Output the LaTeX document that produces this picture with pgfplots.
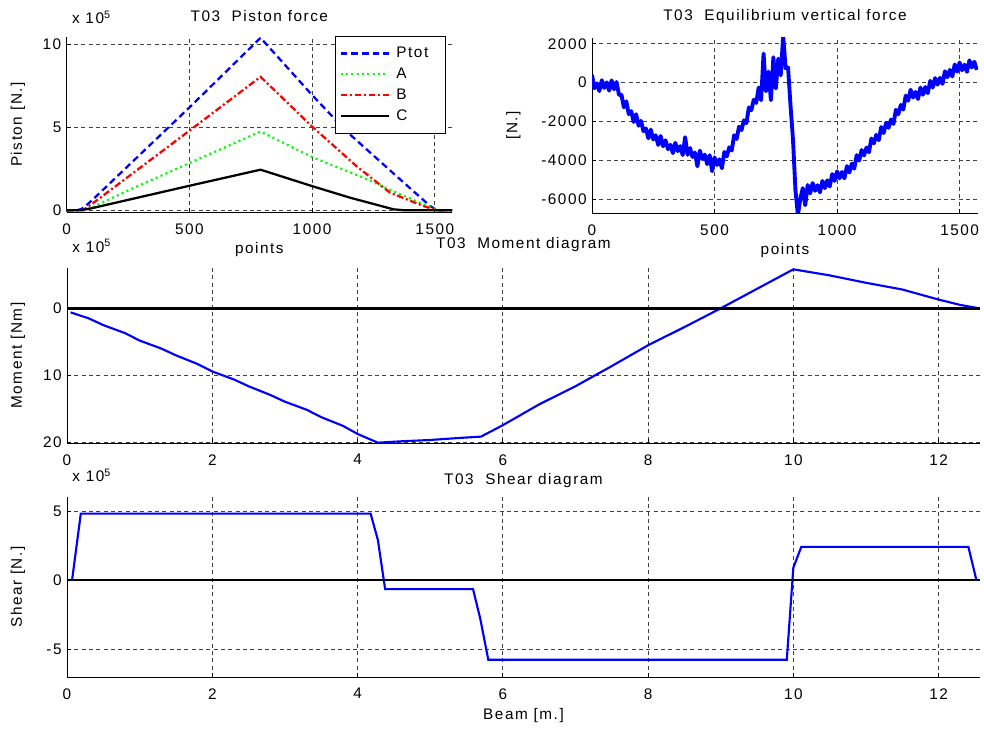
\documentclass[border=0pt]{standalone}
\usepackage{fontspec}
\setmainfont{Liberation Sans}[LetterSpace=10]
\usepackage{pgfplots}
\pgfplotsset{compat=1.18}
\definecolor{mblue}{RGB}{0,0,255}
\definecolor{mgreen}{RGB}{0,255,0}
\definecolor{mred}{RGB}{255,0,0}
\newcommand\fnt{\fontsize{11.5}{13.5}\selectfont}
\pgfplotsset{
  mat/.style={
    scale only axis,
    anchor=south west,
    axis x line*=bottom, axis y line*=left,
    axis line style={-, black, line width=0.6pt},
    grid=major,
    major grid style={black!75, line width=0.5pt, dash pattern=on 3pt off 2.5pt},
    tick align=inside,
    major tick length=3pt,
    tick style={black, line width=0.5pt},
    /pgf/number format/assume math mode=true,
    /pgf/number format/1000 sep={},
    tick label style={font=\fnt},
    xticklabel style={yshift=-4.5pt},
    scaled ticks=false,
  }
}
\begin{document}
\fnt
\begin{tikzpicture}
\useasboundingbox (0pt,0pt) rectangle (738pt,549pt);
% ---------- Piston force ----------
\begin{axis}[mat,
  at={(50pt,390pt)}, width=289pt, height=131.25pt,
  xmin=0, xmax=1570, ymin=-0.1, ymax=10.45,
  xtick={0,500,1000,1500}, ytick={0,5,10},
  legend style={at={(0.9844,1.0057)}, anchor=north east, draw=black, line width=0.5pt,
    fill=white, font=\fnt, row sep=2pt, column sep=3pt, inner xsep=3pt, inner ysep=6pt, cells={anchor=west}},
  legend image code/.code={\draw[#1] (0pt,0pt) -- (36pt,0pt);},
  extra description/.code={
    \node[anchor=center] at ([yshift=15.75pt]axis description cs:0.5,1) {T03\ \ Piston force};
    \node[anchor=base west] at ([yshift=9.75pt]axis description cs:0,1) {x 10\textsuperscript{5}};
    \node[anchor=center] at ([yshift=-28.5pt]axis description cs:0.5,0) {points};
    \node[anchor=center, rotate=90] at ([xshift=-36.5pt]axis description cs:0,0.5) {Piston [N.]};
  }]
\addplot[mblue, line width=1.7pt, dash pattern=on 5pt off 3pt] coordinates {
 (0,0) (40,0) (60,0.08) (80,0.3) (110,0.7) (500,6.2) (790,10.4) (1000,6.95) (1141,4.75) (1359,1.86) (1481,0.26) (1510,0) (1570,0)};
\addlegendentry{Ptot\hspace*{8pt}}
\addplot[mgreen, line width=1.7pt, dash pattern=on 1.5pt off 2.5pt] coordinates {
 (0,0) (70,0) (100,0.15) (250,1.2) (500,2.85) (790,4.75) (1000,3.21) (1196,2.05) (1345,1.06) (1454,0.36) (1520,0) (1570,0)};
\addlegendentry{A}
\addplot[mred, line width=1.7pt, dash pattern=on 5pt off 2pt on 1.5pt off 2pt] coordinates {
 (0,0) (65,0) (100,0.35) (500,4.8) (790,8.05) (1000,5.05) (1182,2.65) (1318,1.06) (1454,0.26) (1510,0) (1570,0)};
\addlegendentry{B}
\addplot[black, line width=1.7pt] coordinates {
 (0,0) (55,0) (100,0.12) (500,1.48) (790,2.45) (1000,1.46) (1155,0.76) (1332,0.06) (1380,0) (1570,0)};
\addlegendentry{C}
\end{axis}
% ---------- Equilibrium vertical force ----------
\begin{axis}[mat,
  at={(444pt,389.25pt)}, width=289.5pt, height=131.25pt,
  xmin=0, xmax=1575, ymin=-6700, ymax=2300,
  xtick={0,500,1000,1500}, ytick={-6000,-4000,-2000,0,2000},
  extra description/.code={
    \node[anchor=center] at ([yshift=15.75pt]axis description cs:0.5,1) {T03\ \ Equilibrium vertical force};
    \node[anchor=center] at ([yshift=-28.5pt]axis description cs:0.5,0) {points};
    \node[anchor=center, rotate=90] at ([xshift=-59pt]axis description cs:0,0.5) {[N.]};
  }]
\addplot[mblue, line width=2.9pt, line join=round] coordinates {
 (0,400) (10,-290) (20,-30) (30,-430) (40,130) (50,-270) (60,20) (70,-410) (80,120) (90,-340)
 (100,40) (110,-630) (120,-610) (130,-1270) (140,-960) (150,-1620) (160,-1460) (170,-2020) (180,-1620) (190,-2210)
 (200,-1960) (210,-2500) (220,-2350) (230,-2860) (240,-2410) (250,-2920) (260,-2700) (270,-3200) (280,-2740) (290,-3270)
 (300,-2960) (310,-3420) (320,-3190) (330,-3620) (340,-3090) (350,-3520) (360,-3260) (370,-3720) (380,-2800) (390,-3710)
 (400,-3360) (410,-3820) (420,-3590) (430,-4300) (440,-3490) (450,-3920) (460,-3700) (470,-4190) (480,-3730) (490,-4550)
 (500,-3840) (510,-4230) (520,-3940) (530,-4400) (540,-3560) (550,-3790) (560,-3320) (570,-3490) (580,-2700) (590,-2900)
 (600,-2260) (610,-2440) (620,-1930) (630,-2080) (640,-1270) (650,-1420) (660,-870) (670,-1040) (680,-250) (690,-900)
 (700,1500) (710,-440) (720,570) (730,-900) (740,1310) (750,-300) (760,1240) (770,380) (780,2400) (790,750)
 (800,780) (810,-1180) (820,-2910) (830,-5500) (840,-6800) (850,-5980) (860,-5420) (870,-6300) (880,-5260) (890,-5690)
 (900,-5160) (910,-5560) (920,-5270) (930,-5640) (940,-5050) (950,-5420) (960,-5020) (970,-5340) (980,-4700) (990,-5050)
 (1000,-4560) (1010,-4920) (1020,-4590) (1030,-4920) (1040,-4290) (1050,-4620) (1060,-4160) (1070,-4420) (1080,-3720) (1090,-4010)
 (1100,-3460) (1110,-3740) (1120,-3330) (1130,-3580) (1140,-2870) (1150,-3120) (1160,-2680) (1170,-2960) (1180,-2280) (1190,-2590)
 (1200,-2060) (1210,-2320) (1220,-1890) (1230,-2120) (1240,-1390) (1250,-1620) (1260,-1140) (1270,-1380) (1280,-660) (1290,-930)
 (1300,-360) (1310,-760) (1320,-470) (1330,-840) (1340,-250) (1350,-620) (1360,-220) (1370,-540) (1380,100) (1390,-250)
 (1400,240) (1410,-100) (1420,250) (1430,-60) (1440,590) (1450,280) (1460,660) (1470,320) (1480,940) (1490,570)
 (1500,1040) (1510,640) (1520,930) (1530,560) (1540,1150) (1550,780) (1560,1080) (1570,660)};
\end{axis}
% ---------- Moment diagram ----------
\begin{axis}[mat,
  at={(50.25pt,216.75pt)}, width=684.75pt, height=131.25pt,
  xmin=0, xmax=12.57, ymin=-6, ymax=20.05, y dir=reverse,
  xtick={0,2,4,6,8,10,12}, ytick={0,10,20},
  extra description/.code={
    \node[anchor=center] at ([yshift=17.25pt]axis description cs:0.5,1) {T03\ \ Moment diagram};
    \node[anchor=base west] at ([yshift=12pt]axis description cs:0,1) {x 10\textsuperscript{5}};
    \node[anchor=center, rotate=90] at ([xshift=-36.75pt]axis description cs:0,0.5) {Moment [Nm]};
  }]
\addplot[mblue, line width=1.6pt] coordinates {
 (0.05,0.6) (0.3,1.5) (0.5,2.5) (0.8,3.7) (1,4.8) (1.3,6.0) (1.5,7.0) (1.8,8.3) (2,9.4) (2.3,10.6) (2.5,11.6)
 (2.8,12.9) (3,13.9) (3.3,15.1) (3.5,16.2) (3.8,17.5) (4,18.7) (4.28,20)
 (4.6,19.8) (5,19.6) (5.4,19.3) (5.7,19.1) (6,17.4) (6.5,14.3) (7,11.6) (7.5,8.6) (8,5.5) (8.5,2.8)
 (9,0) (9.5,-2.9) (10,-5.8) (10.5,-4.9) (11,-3.8) (11.5,-2.8) (12,-1.3) (12.3,-0.5) (12.56,0)};
\addplot[black, line width=2pt] coordinates {(0,0) (12.57,0)};
\end{axis}
% ---------- Shear diagram ----------
\begin{axis}[mat,
  at={(50.25pt,41.25pt)}, width=684.75pt, height=135pt,
  xmin=0, xmax=12.57, ymin=-7, ymax=6,
  xtick={0,2,4,6,8,10,12}, ytick={-5,0,5},
  extra description/.code={
    \node[anchor=center] at ([yshift=12pt]axis description cs:0.5,1) {T03\ \ Shear diagram};
    \node[anchor=base west] at ([yshift=11.25pt]axis description cs:0,1) {x 10\textsuperscript{5}};
    \node[anchor=center] at ([yshift=-29.25pt]axis description cs:0.5,0) {Beam [m.]};
    \node[anchor=center, rotate=90] at ([xshift=-36.75pt]axis description cs:0,0.5) {Shear [N.]};
  }]
\addplot[mblue, line width=1.6pt] coordinates {
 (0.07,0) (0.19,4.8) (4.18,4.8) (4.28,2.9) (4.38,-0.65) (5.59,-0.65) (5.69,-2.8) (5.80,-5.75)
 (9.91,-5.75) (10.0,0.9) (10.11,2.4) (12.41,2.4) (12.52,0)};
\addplot[black, line width=2pt] coordinates {(0,0) (12.57,0)};
\end{axis}
\end{tikzpicture}
\end{document}
